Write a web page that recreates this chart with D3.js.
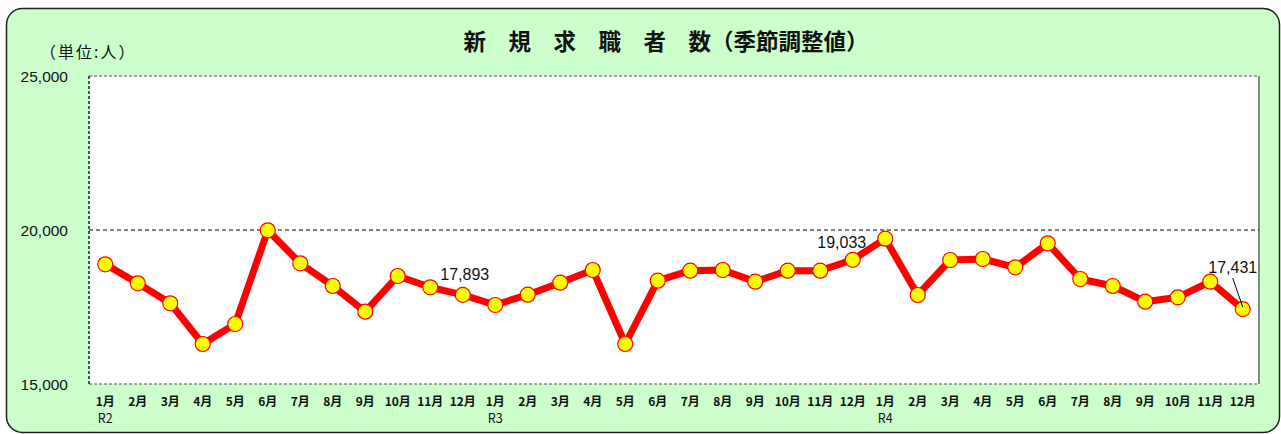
<!DOCTYPE html>
<html lang="ja">
  <head>
    <meta charset="UTF-8" />
    <title>新規求職者数</title>
    <script src="https://d3js.org/d3.v7.min.js"></script>
    <style>
      body { margin: 0; background: #fff; }
      svg { display: block; }
      .num { font-family: "Liberation Sans", Arial, sans-serif; fill: #111; }
      .jp { font-family: "Noto Sans CJK JP", sans-serif; fill: #111; }
    </style>
  </head>
  <body>
    <svg width="1281" height="434"></svg>
    <script>
      // 月ラベル（R2.1 〜 R4.12）
      const months = ["1月","2月","3月","4月","5月","6月","7月","8月","9月","10月","11月","12月",
                      "1月","2月","3月","4月","5月","6月","7月","8月","9月","10月","11月","12月",
                      "1月","2月","3月","4月","5月","6月","7月","8月","9月","10月","11月","12月"];
      const eras = ["R2","","","","","","","","","","","",
                    "R3","","","","","","","","","","","",
                    "R4","","","","","","","","","","",""];
      // 新規求職者数（季節調整値）
      const values = [18886, 18269, 17620, 16299, 16948, 19990, 18918, 18182, 17348, 18506, 18139, 17893,
                      17565, 17900, 18290, 18701, 16299, 18355, 18680, 18701, 18323, 18680, 18680, 19033,
                      19719, 17890, 19026, 19058, 18788, 19567, 18409, 18182, 17673, 17814, 18323, 17431];
      const yTicks = [15000, 20000, 25000];
      // 数値を表示する点（index）
      const labeled = [11, 23, 35];

      const svg = d3.select("svg");
      const margin = { left: 89, right: 22, top: 76, bottom: 50 };
      const width = 1281 - margin.left - margin.right,
        height = 434 - margin.top - margin.bottom;

      // 背景パネル
      svg.append("rect")
        .attr("x", 6.5).attr("y", 8.5)
        .attr("width", 1273).attr("height", 424)
        .attr("rx", 16)
        .attr("fill", "#ccffcc")
        .attr("stroke", "#222")
        .attr("stroke-width", 1.5);

      svg.append("text")
        .attr("class", "jp")
        .attr("x", 666).attr("y", 50)
        .attr("text-anchor", "middle")
        .style("font-size", "22.5px")
        .style("font-weight", "bold")
        .text("新　規　求　職　者　数（季節調整値）");

      svg.append("text")
        .attr("class", "jp")
        .attr("x", 40).attr("y", 58)
        .style("font-size", "16px")
        .style("letter-spacing", "2px")
        .text("（単位:人）");

      const g = svg.append("g").attr("transform", `translate(${margin.left},${margin.top})`);

      const x = d3.scaleBand().domain(d3.range(values.length)).range([0, width]);
      const y = d3.scaleLinear().domain([15000, 25000]).range([height, 0]);

      // プロットエリア
      g.append("rect")
        .attr("width", width).attr("height", height)
        .attr("fill", "#fff");
      g.append("line")
        .attr("x1", width).attr("x2", width).attr("y1", 0).attr("y2", height)
        .attr("stroke", "#888").attr("stroke-width", 2);
      g.selectAll(".hb")
        .data([0, height])
        .enter().append("line")
        .attr("x1", 0).attr("x2", width)
        .attr("y1", d => d).attr("y2", d => d)
        .attr("stroke", "#888").attr("stroke-width", 1.5)
        .attr("stroke-dasharray", "3,2");
      g.append("line")
        .attr("x1", 0).attr("x2", 0).attr("y1", 0).attr("y2", height)
        .attr("stroke", "#222").attr("stroke-width", 1.5)
        .attr("stroke-dasharray", "3,2");

      // 目盛線
      g.selectAll(".grid")
        .data([20000])
        .enter().append("line")
        .attr("x1", 0).attr("x2", width)
        .attr("y1", d => y(d)).attr("y2", d => y(d))
        .attr("stroke", "#000").attr("stroke-width", 1)
        .attr("stroke-dasharray", "4,3");

      // Y軸ラベル
      g.selectAll(".ytick")
        .data(yTicks)
        .enter().append("text")
        .attr("class", "num")
        .attr("x", -21)
        .attr("y", d => y(d) + 6)
        .attr("text-anchor", "end")
        .style("font-size", "15.5px")
        .text(d => d3.format(",")(d));

      // X軸ラベル
      g.selectAll(".xtick")
        .data(months)
        .enter().append("text")
        .attr("class", "jp")
        .attr("x", (d, i) => x(i) + x.bandwidth() / 2)
        .attr("y", height + 22)
        .attr("text-anchor", "middle")
        .style("font-size", "12px")
        .style("font-weight", "bold")
        .text(d => d);
      g.selectAll(".era")
        .data(eras)
        .enter().append("text")
        .attr("class", "jp")
        .attr("x", (d, i) => x(i) + x.bandwidth() / 2)
        .attr("y", height + 39)
        .attr("text-anchor", "middle")
        .style("font-size", "12.5px")
        .text(d => d);

      const cx = i => x(i) + x.bandwidth() / 2;

      g.append("path")
        .datum(values)
        .attr("fill", "none")
        .attr("stroke", "#ff0000")
        .attr("stroke-width", 7)
        .attr("stroke-linejoin", "round")
        .attr("d", d3.line().x((d, i) => cx(i)).y(d => y(d)));

      g.selectAll(".dot")
        .data(values)
        .enter().append("circle")
        .attr("cx", (d, i) => cx(i))
        .attr("cy", d => y(d))
        .attr("r", 7.5)
        .attr("fill", "#ffff00")
        .attr("stroke", "#ff0000")
        .attr("stroke-width", 1.2);

      // データラベル
      const offs = { 11: [2, -15], 23: [-11, -12], 35: [-10, -36] };
      g.selectAll(".lbl")
        .data(labeled)
        .enter().append("text")
        .attr("class", "num")
        .attr("x", i => cx(i) + offs[i][0])
        .attr("y", i => y(values[i]) + offs[i][1])
        .attr("text-anchor", "middle")
        .style("font-size", "16px")
        .text(i => d3.format(",")(values[i]));

      // 引出線（12月）
      g.append("line")
        .attr("x1", cx(35) - 10).attr("y1", y(values[35]) - 31)
        .attr("x2", cx(35)).attr("y2", y(values[35]) - 2)
        .attr("stroke", "#000").attr("stroke-width", 1);
    </script>
  </body>
</html>
